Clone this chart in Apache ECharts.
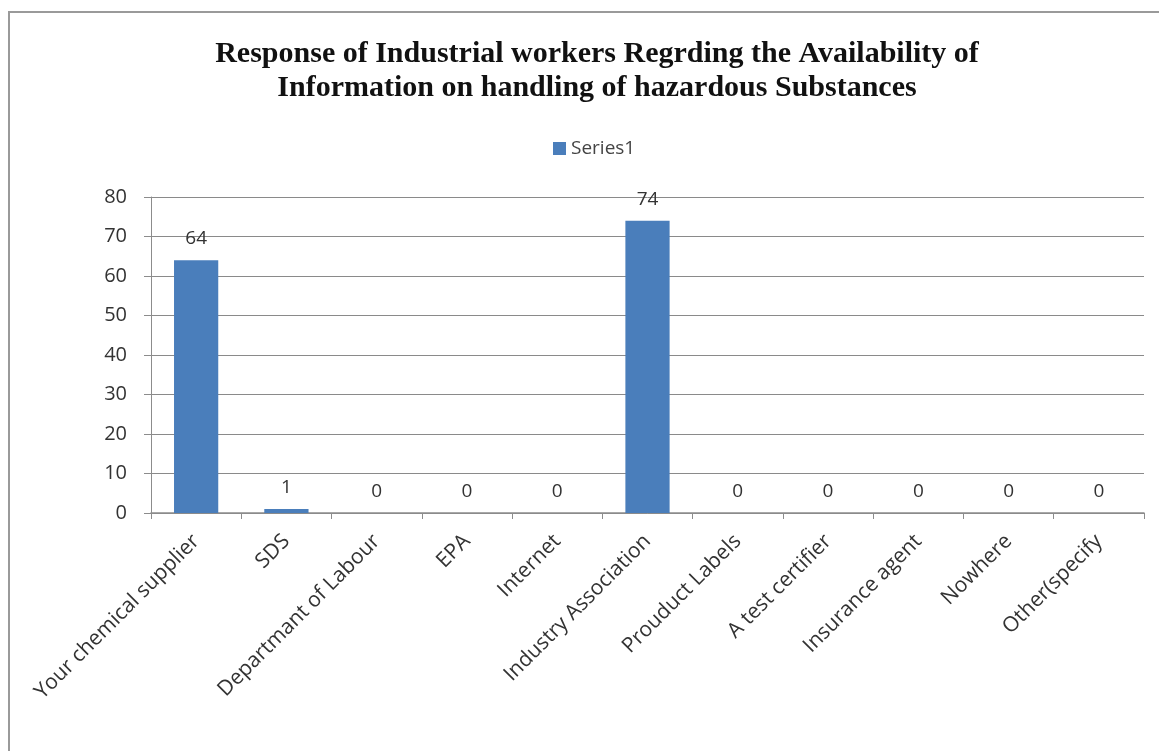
<!DOCTYPE html>
<html>
<head>
<meta charset="utf-8">
<script src="https://cdn.jsdelivr.net/npm/echarts@6/dist/echarts.min.js"></script>
<style>
  html,body{margin:0;padding:0;background:#fff}
  #frame{position:absolute;left:8px;top:11px;right:-10px;bottom:-10px;border-left:2px solid #9a9a9a;border-top:2px solid #9a9a9a}
  #main{position:absolute;left:0;top:0;width:1159px;height:751px}
</style>
</head>
<body>
<div id="frame"></div>
<div id="main"></div>
<script>
// chart data
var titleLines = ['Response of Industrial workers Regrding the Availability of', 'Information on handling of hazardous Substances'];
var seriesName = 'Series1';
var categories = ['Your chemical supplier', 'SDS', 'Departmant of Labour', 'EPA', 'Internet',
  'Industry Association', 'Prouduct Labels', 'A test certifier', 'Insurance agent', 'Nowhere', 'Other(specify'];
var values = [64, 1, 0, 0, 0, 74, 0, 0, 0, 0, 0];
var yTicks = { min: 0, max: 80, interval: 10 };

var chart = echarts.init(document.getElementById('main'), null, { renderer: 'canvas' });
chart.setOption({
  backgroundColor: 'transparent',
  animation: false,
  title: {
    text: titleLines.join('\n'),
    left: 592, top: 32, textAlign: 'center',
    textStyle: { fontFamily: 'Liberation Serif', fontWeight: 'bold', fontSize: 30, lineHeight: 34, color: '#111' }
  },
  legend: {
    data: [seriesName], left: 548, top: 134,
    itemWidth: 13, itemHeight: 13, itemGap: 4,
    icon: 'rect',
    textStyle: { fontFamily: 'Open Sans', fontSize: 19, color: '#444' }
  },
  grid: { left: 151, right: 15, top: 197, bottom: 238, containLabel: false },
  xAxis: {
    type: 'category', data: categories, boundaryGap: true,
    axisLine: { lineStyle: { color: '#8c8c8c', width: 1.5 } },
    axisTick: { show: true, alignWithLabel: false, length: 6, lineStyle: { color: '#8c8c8c' } },
    axisLabel: { rotate: 45, interval: 0, margin: 25, fontFamily: 'Open Sans', fontSize: 21, color: '#333' }
  },
  yAxis: {
    type: 'value', min: yTicks.min, max: yTicks.max, interval: yTicks.interval,
    axisLine: { show: true, lineStyle: { color: '#8c8c8c', width: 1 } },
    axisTick: { show: true, length: 7, lineStyle: { color: '#8c8c8c' } },
    axisLabel: { margin: 24, fontFamily: 'Open Sans', fontSize: 20, color: '#333' },
    splitLine: { lineStyle: { color: '#8a8a8a', width: 1 } }
  },
  series: [{
    name: seriesName, type: 'bar', data: values, barWidth: '49%',
    itemStyle: { color: '#4a7ebb' },
    label: { show: true, position: 'top', distance: 12, fontFamily: 'Open Sans', fontSize: 19, color: '#333' }
  }]
});
</script>
</body>
</html>
